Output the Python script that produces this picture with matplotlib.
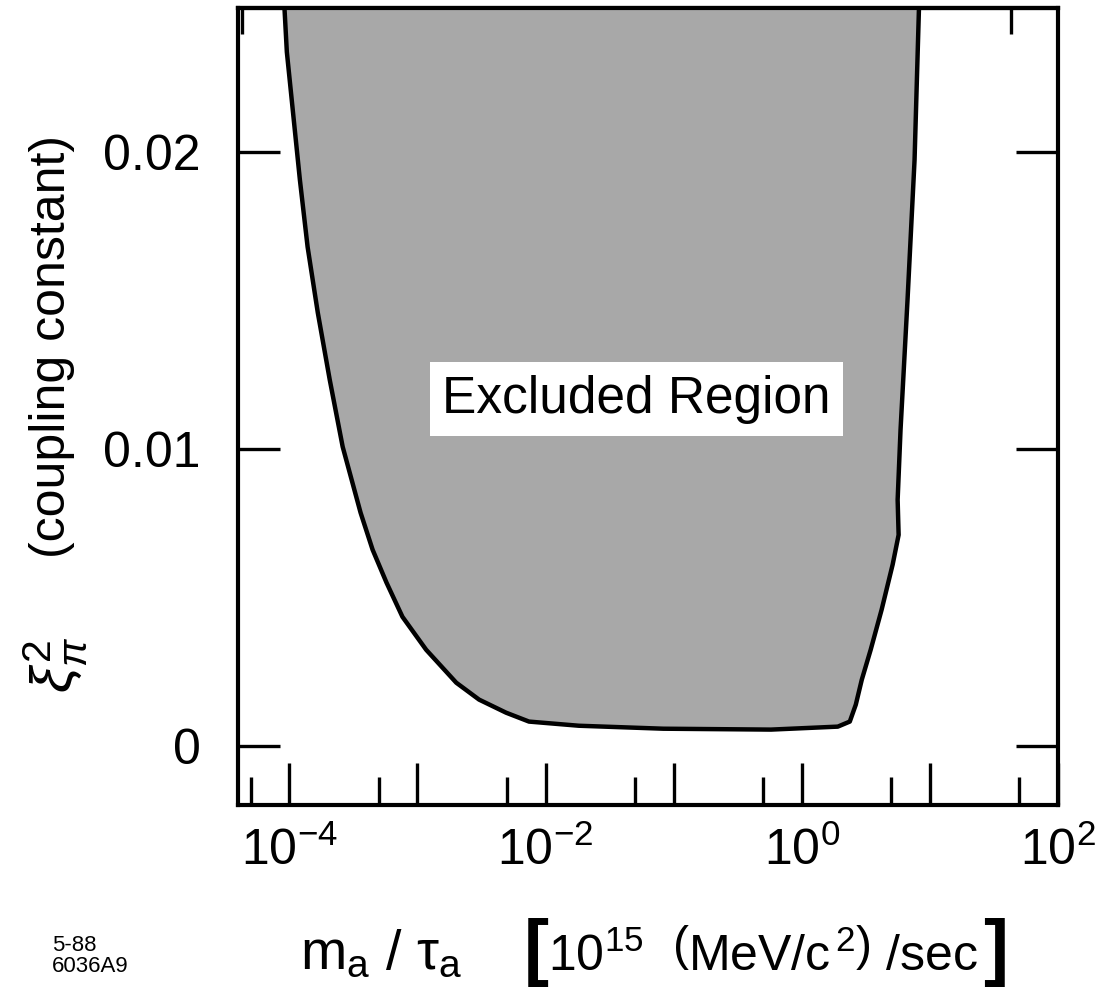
import numpy as np
import matplotlib
matplotlib.use('Agg')
import matplotlib.pyplot as plt
from matplotlib.ticker import FixedLocator, NullLocator, FuncFormatter

plt.rcParams['font.family'] = ['Liberation Sans', 'DejaVu Sans']
plt.rcParams['mathtext.fontset'] = 'custom'
plt.rcParams['mathtext.rm'] = 'Liberation Sans'
plt.rcParams['mathtext.it'] = 'Liberation Sans:italic'
plt.rcParams['mathtext.bf'] = 'Liberation Sans:bold'

# boundary of the excluded region: m_a/tau_a [1e15 (MeV/c^2)/sec] vs xi_pi^2
left_mtau = [9.0e-5, 9.57e-5, 1.21e-4, 1.39e-4, 1.67e-4, 2.07e-4, 2.61e-4, 3.60e-4,
             4.47e-4, 5.74e-4, 7.64e-4, 1.17e-3, 2.01e-3, 3.03e-3, 4.92e-3, 7.43e-3]
left_xi2 = [0.0255, 0.02337, 0.01906, 0.0168, 0.01458, 0.01232, 0.01007, 0.00785,
            0.0066, 0.00549, 0.00434, 0.00323, 0.00212, 0.00155, 0.00111, 0.00081]
bottom_mtau = [0.0182, 0.083, 0.575, 1.91]
bottom_xi2 = [0.00067, 0.00057, 0.00054, 0.00064]
right_mtau = [2.37, 2.64, 2.94, 3.45, 4.20, 5.12, 5.70, 5.60, 5.90, 6.69, 7.59, 8.30]
right_xi2 = [0.00081, 0.00138, 0.00222, 0.00323, 0.00458, 0.0061, 0.0071, 0.00828,
             0.01064, 0.01502, 0.01973, 0.0255]

x_major = [1e-4, 1e-3, 1e-2, 1e-1, 1e0, 1e1, 1e2]
x_minor = [5e-5, 5e-4, 5e-3, 5e-2, 5e-1, 5e0, 5e1]
x_top = [4.3e-5, 4.3e-4, 4.3e-3, 4.3e-2, 4.3e-1, 4.3e0, 4.3e1]
y_ticks = [0.0, 0.01, 0.02]
y_labels = ['0', '0.01', '0.02']

fig = plt.figure(figsize=(11.17, 9.99), dpi=100)
ax = fig.add_axes([0.2131, 0.1942, 0.7341, 0.7978])

xs = left_mtau + bottom_mtau + right_mtau
ys = left_xi2 + bottom_xi2 + right_xi2
ax.fill(xs, ys, facecolor='#a8a8a8', edgecolor='black', linewidth=3.2, joinstyle='round')

ax.set_xscale('log')
ax.set_xlim(10 ** -4.4, 1e2)
ax.set_ylim(-0.002, 0.02485)

ax.xaxis.set_major_locator(FixedLocator(x_major))
ax.xaxis.set_minor_locator(FixedLocator(x_minor))


def decade_label(v, pos):
    e = int(round(np.log10(v)))
    return r'$\mathregular{10^{%d}}$' % e if e % 2 == 0 else ''


ax.xaxis.set_major_formatter(FuncFormatter(decade_label))
ax.xaxis.set_minor_formatter(FuncFormatter(lambda v, p: ''))
ax.set_yticks(y_ticks)
ax.set_yticklabels(y_labels)

ax.tick_params(axis='x', which='major', direction='in', length=30, width=2.4,
               labelsize=36, pad=16, top=False)
ax.tick_params(axis='x', which='minor', direction='in', length=20, width=2.4, top=False)
ax.tick_params(axis='y', direction='in', length=30, width=2.4, labelsize=36,
               pad=27, right=True)

# unlabelled ticks along the top edge
top = ax.secondary_xaxis('top')
top.xaxis.set_major_locator(FixedLocator(x_top))
top.xaxis.set_minor_locator(NullLocator())
top.tick_params(direction='in', length=19, width=2.4, labeltop=False)
top.spines['top'].set_linewidth(3)

for s in ax.spines.values():
    s.set_linewidth(3)

ax.text(0.051, 0.01167, 'Excluded Region', fontsize=37, ha='center', va='center',
        bbox=dict(facecolor='white', edgecolor='none', pad=9))

# y axis title
fig.text(52 / 1117, 1 - 347 / 999, '(coupling constant)', rotation=90,
         fontsize=36, ha='center', va='center')
fig.text(55 / 1117, 1 - 665 / 999, r'$\xi_{\pi}^{2}$', rotation=90,
         fontsize=42, ha='center', va='center')

# x axis title, built from pieces so the square brackets can be large
ylab = 1 - 955 / 999
fig.text(300 / 1117, ylab, r'$\mathregular{m_a\ /\ \tau_a}$',
         fontsize=40, ha='left', va='center')
fig.text(524 / 1117, ylab + 0.003, '[', fontsize=54, fontweight='bold',
         ha='left', va='center')
fig.text(548 / 1117, ylab,
         r'$\mathregular{10^{15}}\ \ \left(\mathregular{MeV/c}^{\,2}\right)\ \mathregular{/sec}$',
         fontsize=36, ha='left', va='center')
fig.text(1008 / 1117, ylab + 0.003, ']', fontsize=54, fontweight='bold',
         ha='right', va='center')

fig.text(52 / 1117, 1 - 956 / 999, '5-88\n6036A9', fontsize=16,
         family=['Liberation Sans Narrow', 'Liberation Sans'],
         ha='left', va='center', linespacing=1.0)

fig.savefig('out.png', dpi=100)
